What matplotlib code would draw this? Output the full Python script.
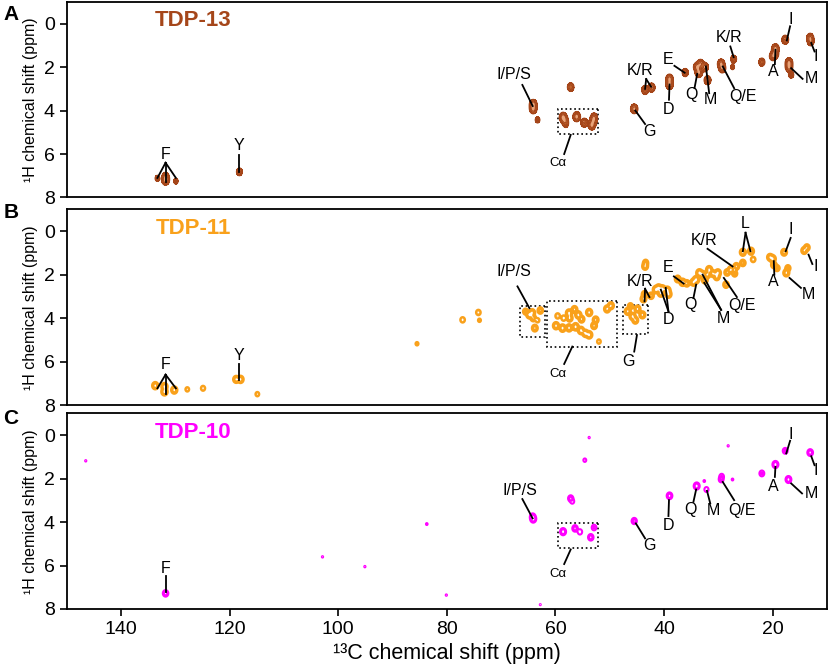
import numpy as np
import matplotlib
matplotlib.use('Agg')
import matplotlib.pyplot as plt
from matplotlib.patches import Rectangle

plt.rcParams['font.family'] = ['Liberation Sans', 'DejaVu Sans']

# peak lists: 13C shift (ppm), 1H shift (ppm), relative intensity
a_c = [131.8, 131.8, 133.3, 129.9, 118.2, 64.1, 64.1, 63.3, 57.2,
       58.6, 58.3, 56.1, 54.7, 53.3, 53.0, 52.9, 58.1,
       45.5, 43.5, 42.3, 39.0, 39.0, 36.1, 33.9, 33.6, 33.3, 32.5, 32.0,
       29.5, 29.3, 27.2, 27.4, 22.0, 19.5, 19.6, 20.0, 17.7, 13.1, 13.0,
       17.0, 17.0, 16.6]
a_h = [7.2, 7.05, 7.12, 7.25, 6.82, 3.72, 3.92, 4.43, 2.92,
       4.31, 4.45, 4.28, 4.56, 4.66, 4.45, 4.31, 4.62,
       3.92, 3.05, 2.94, 2.55, 2.8, 2.25, 2.0, 2.25, 1.85, 2.0, 2.6,
       1.85, 2.05, 1.63, 2.0, 1.77, 1.15, 1.4, 1.5, 0.74, 0.65, 0.82,
       1.8, 2.0, 2.35]
a_i = [1.0, 0.6, 0.2, 0.18, 0.35, 1.0, 0.9, 0.2, 0.5,
       1.0, 0.6, 1.0, 0.6, 1.0, 0.7, 0.5, 0.25,
       0.8, 0.6, 0.6, 0.9, 0.9, 0.4, 0.9, 0.9, 0.6, 0.7, 0.6,
       0.8, 0.7, 0.35, 0.15, 0.4, 0.9, 0.9, 0.5, 0.6, 0.6, 0.5,
       0.9, 0.8, 0.25]

b_c = [133.7, 132.0, 132.0, 130.2, 127.8, 124.9, 118.0, 118.8, 114.9, 85.5,
       77.1, 74.2, 74.0,
       64.8, 65.5, 64.3, 62.8, 63.8, 64.1, 63.3,
       59.9, 58.7, 57.5, 56.3, 55.3, 53.8, 54.5, 57.5, 57.4, 55.8, 53.8, 55.2,
       52.6, 52.9, 50.5, 49.8, 59.6, 52.0, 56.5, 58.5,
       46.7, 45.8, 44.9, 44.0, 45.3, 46.2,
       43.8, 43.6, 42.4, 43.5, 43.4,
       41.5, 40.3, 39.4, 40.6, 39.2, 41.0,
       36.6, 37.5, 35.8, 34.1, 33.5, 34.6, 32.9, 32.5, 32.0,
       31.7, 30.1, 30.3, 28.6, 31.0, 27.7, 26.7, 25.5, 28.4, 27.0,
       25.5, 24.0, 23.6, 20.0, 20.5, 19.8, 19.2, 17.9, 14.2, 13.7, 17.5, 17.2]
b_h = [7.11, 7.15, 7.39, 7.31, 7.28, 7.23, 6.82, 6.82, 7.5, 5.18,
       4.08, 3.74, 4.1,
       3.85, 3.7, 3.75, 3.65, 4.46, 4.0, 4.1,
       4.35, 4.46, 4.45, 4.4, 4.57, 4.77, 4.7, 3.77, 4.0, 3.85, 3.74, 4.05,
       4.08, 4.35, 3.58, 3.43, 3.9, 5.08, 3.6, 4.0,
       3.69, 3.92, 3.58, 3.85, 4.1, 3.45,
       3.12, 2.9, 2.97, 1.62, 1.45,
       2.69, 2.66, 2.72, 2.85, 2.9, 2.6,
       2.35, 2.2, 2.4, 2.23, 1.92, 2.35, 2.0, 2.25, 2.0,
       1.77, 1.92, 2.1, 2.46, 1.95, 1.77, 1.62, 1.46, 1.9, 1.95,
       0.97, 0.92, 1.3, 1.27, 1.2, 1.55, 1.7, 0.97, 0.89, 0.75, 1.92, 1.7]
b_i = [0.8, 0.8, 0.9, 0.8, 0.2, 0.25, 0.8, 0.7, 0.2, 0.15,
       0.3, 0.3, 0.15,
       0.8, 0.4, 0.7, 0.5, 0.6, 0.5, 0.2,
       0.8, 0.9, 0.8, 0.9, 0.9, 0.9, 0.8, 0.9, 0.7, 0.8, 0.8, 0.6,
       0.6, 0.6, 0.7, 0.7, 0.3, 0.2, 0.6, 0.3,
       0.7, 0.8, 0.7, 0.7, 0.6, 0.4,
       0.6, 0.5, 0.5, 0.6, 0.4,
       0.9, 0.9, 0.9, 0.8, 0.8, 0.6,
       0.8, 0.6, 0.5, 0.9, 0.9, 0.7, 0.8, 0.6, 0.6,
       0.8, 0.8, 0.6, 0.5, 0.6, 0.7, 0.6, 0.5, 0.5, 0.4,
       0.7, 0.7, 0.3, 0.8, 0.6, 0.5, 0.4, 0.6, 0.6, 0.5, 0.7, 0.4]

c_c = [131.8, 146.5, 102.9, 95.1, 83.7, 80.1, 53.8, 54.6, 28.2, 27.4, 32.6, 62.8,
       64.1, 64.2, 57.2, 56.9, 58.6, 56.4, 55.5, 53.5, 52.9,
       45.5, 39.0, 34.0, 32.2, 29.5, 29.4, 22.0, 19.5, 17.7, 13.1, 17.1]
c_h = [7.28, 1.18, 5.6, 6.05, 4.09, 7.36, 0.11, 1.15, 0.49, 2.04, 2.11, 7.8,
       3.86, 3.75, 2.91, 3.05, 4.44, 4.29, 4.45, 4.7, 4.25,
       3.95, 2.79, 2.34, 2.5, 2.04, 1.9, 1.76, 1.35, 0.72, 0.8, 2.04]
c_i = [0.6, 0.088, 0.088, 0.088, 0.095, 0.088, 0.088, 0.14, 0.088, 0.095, 0.095, 0.085,
       0.9, 0.6, 0.5, 0.2, 0.9, 0.6, 0.3, 0.6, 0.35,
       0.5, 0.7, 0.9, 0.25, 0.35, 0.3, 0.4, 0.9, 0.4, 0.7, 0.8]

names = ['TDP-13', 'TDP-11', 'TDP-10']
letters = ['A', 'B', 'C']
colors = ['#A5461A', '#F9A11B', '#FF00FF']

# residue labels: text, label position, leader lines
a_labels = [
    ('F', 131.8, 6.0, [(131.8, 6.4, 133.3, 7.1), (131.8, 6.4, 131.8, 7.3), (131.8, 6.4, 129.9, 7.1)]),
    ('Y', 118.2, 5.6, [(118.2, 6.05, 118.2, 6.85)]),
    ('I/P/S', 67.6, 2.35, [(66.1, 2.82, 64.2, 3.79)]),
    ('Cα', 59.5, 6.43, [(58.4, 6.0, 57.2, 5.12)]),
    ('G', 42.7, 4.97, [(45.3, 4.0, 43.5, 4.62)]),
    ('K/R', 44.4, 2.16, [(43.3, 2.55, 43.5, 3.0), (43.3, 2.55, 42.4, 2.9)]),
    ('D', 39.2, 3.97, [(39.0, 2.8, 39.1, 3.5)]),
    ('E', 39.2, 1.63, [(38.1, 1.94, 36.2, 2.26)]),
    ('Q', 35.0, 3.25, [(34.4, 2.97, 33.9, 2.31)]),
    ('M', 31.4, 3.5, [(31.7, 3.2, 32.3, 1.97)]),
    ('Q/E', 25.5, 3.35, [(27.1, 2.97, 29.2, 1.97)]),
    ('K/R', 28.0, 0.62, [(27.8, 1.05, 27.2, 1.54)]),
    ('A', 19.9, 2.2, [(19.6, 1.86, 19.5, 1.2)]),
    ('I', 16.6, -0.18, [(16.8, 0.12, 17.4, 0.77)]),
    ('I', 12.0, 1.51, [(12.9, 0.89, 12.3, 1.28)]),
    ('M', 12.9, 2.54, [(16.6, 2.05, 14.5, 2.54)]),
]
b_labels = [
    ('F', 131.8, 6.15, [(131.8, 6.6, 133.3, 7.23), (131.8, 6.6, 131.8, 7.47), (131.8, 6.6, 129.9, 7.23)]),
    ('Y', 118.2, 5.74, [(118.2, 6.1, 118.2, 6.85)]),
    ('I/P/S', 67.6, 1.85, [(67.0, 2.54, 64.8, 3.54)]),
    ('Cα', 59.5, 6.57, [(58.4, 6.11, 56.9, 5.31)]),
    ('G', 46.5, 6.0, [(45.5, 5.54, 45.0, 4.78)]),
    ('K/R', 44.4, 2.31, [(43.5, 2.65, 43.6, 3.23), (43.5, 2.65, 42.7, 3.03)]),
    ('D', 39.2, 4.08, [(39.2, 3.69, 40.6, 2.69), (39.2, 3.69, 39.7, 2.61)]),
    ('E', 39.2, 1.69, [(38.2, 2.08, 36.4, 2.41)]),
    ('Q', 35.2, 3.38, [(34.6, 3.08, 34.1, 2.46)]),
    ('M', 29.0, 4.0, [(29.5, 3.62, 32.9, 2.0), (29.5, 3.62, 32.6, 2.38)]),
    ('Q/E', 25.6, 3.43, [(26.6, 3.03, 29.0, 2.15)]),
    ('K/R', 32.7, 0.42, [(32.0, 0.81, 27.4, 1.62)]),
    ('L', 25.0, -0.36, [(25.0, 0.07, 25.5, 0.92), (25.0, 0.07, 24.1, 0.92)]),
    ('A', 19.9, 2.31, [(19.7, 2.0, 19.8, 1.38)]),
    ('I', 16.6, -0.08, [(16.7, 0.31, 17.6, 0.92)]),
    ('I', 12.0, 1.62, [(13.4, 1.08, 12.7, 1.51)]),
    ('M', 13.4, 2.92, [(16.9, 2.15, 14.8, 2.61)]),
]
c_labels = [
    ('F', 131.8, 6.13, [(131.8, 6.5, 131.8, 7.2)]),
    ('I/P/S', 66.5, 2.53, [(66.1, 2.94, 64.2, 3.83)]),
    ('Cα', 59.5, 6.39, [(58.4, 5.93, 57.2, 5.26)]),
    ('G', 42.7, 5.1, [(45.2, 4.06, 43.5, 4.75)]),
    ('D', 39.2, 4.14, [(39.1, 2.99, 39.2, 3.72)]),
    ('Q', 35.2, 3.42, [(34.6, 3.07, 34.1, 2.5)]),
    ('M', 31.0, 3.48, [(31.5, 3.14, 32.1, 2.56)]),
    ('Q/E', 25.6, 3.45, [(27.1, 2.99, 29.2, 2.15)]),
    ('A', 19.9, 2.38, [(19.6, 1.92, 19.5, 1.46)]),
    ('I', 16.6, -0.05, [(16.8, 0.26, 17.5, 0.84)]),
    ('I', 12.0, 1.64, [(12.9, 0.97, 12.3, 1.38)]),
    ('M', 12.9, 2.68, [(16.6, 2.22, 14.6, 2.68)]),
]

# dotted boxes: c_left, c_right, h_top, h_bottom
a_boxes = [(59.6, 52.1, 3.92, 5.09)]
b_boxes = [(66.6, 61.9, 3.43, 4.88), (61.5, 48.6, 3.23, 5.31), (47.6, 43.0, 3.38, 4.72)]
c_boxes = [(59.6, 52.1, 4.06, 5.21)]

peaks = [(a_c, a_h, a_i), (b_c, b_h, b_i), (c_c, c_h, c_i)]
labels = [a_labels, b_labels, c_labels]
boxes = [a_boxes, b_boxes, c_boxes]
widths = [(0.32, 0.105), (0.27, 0.08), (0.25, 0.075)]

gx = np.arange(10, 150.01, 0.04)
gy = np.arange(-1, 8.001, 0.01)

fig = plt.figure(figsize=(8.3, 6.71), dpi=100)
bottoms = [0.7057, 0.3964, 0.0924]
letter_y = [0.979, 0.6826, 0.377]

for k in range(3):
    ax = fig.add_axes([0.0804, bottoms[k], 0.916, 0.2914])
    pc, ph, pi = peaks[k]
    sx, sy = widths[k]
    z = np.zeros((len(gy), len(gx)))
    for c, h, i in zip(pc, ph, pi):
        z += i * np.outer(np.exp(-0.5 * ((gy - h) / sy) ** 2), np.exp(-0.5 * ((gx - c) / sx) ** 2))
    if k == 0:
        ax.contourf(gx, gy, z, levels=[0.08, 0.3, 0.55, 10], colors=[colors[0], '#C0642E', '#E9A57A'])
        ax.contour(gx, gy, z, levels=[0.08, 0.3, 0.55], colors=colors[0], linewidths=0.8)
    elif k == 1:
        ax.contour(gx, gy, z, levels=[0.1, 0.3], colors=colors[1], linewidths=1.8)
    else:
        ax.contour(gx, gy, z, levels=[0.08, 0.3], colors=colors[2], linewidths=1.5)

    for text, tx, ty, segs in labels[k]:
        fs = 9.5 if text == 'Cα' else 11.5
        ax.text(tx, ty, text, ha='center', va='center', fontsize=fs)
        for x0, y0, x1, y1 in segs:
            ax.plot([x0, x1], [y0, y1], color='black', lw=1.3)
    for c0, c1, h0, h1 in boxes[k]:
        ax.add_patch(Rectangle((c1, h0), c0 - c1, h1 - h0, fill=False, ls=':', lw=1.2, ec='black'))

    ax.set_xlim(150, 10)
    ax.set_ylim(8, -1)
    ax.set_yticks([0, 2, 4, 6, 8])
    ax.tick_params(axis='y', labelsize=14, length=5, width=1.2)
    ax.set_ylabel('¹H chemical shift (ppm)', fontsize=11.5, labelpad=4)
    for s in ax.spines.values():
        s.set_linewidth(1.3)
    if k < 2:
        ax.set_xticks([])
    else:
        ax.set_xticks([140, 120, 100, 80, 60, 40, 20])
        ax.tick_params(axis='x', labelsize=14, length=5, width=1.2)
        ax.set_xlabel('¹³C chemical shift (ppm)', fontsize=15.5)
    ax.text(0.166, 0.905, names[k], transform=ax.transAxes, ha='center', va='center',
            fontsize=16, fontweight='bold', color=colors[k])
    fig.text(0.004, letter_y[k], letters[k], fontsize=15, fontweight='bold', va='center')

fig.savefig('out.png', dpi=100)
